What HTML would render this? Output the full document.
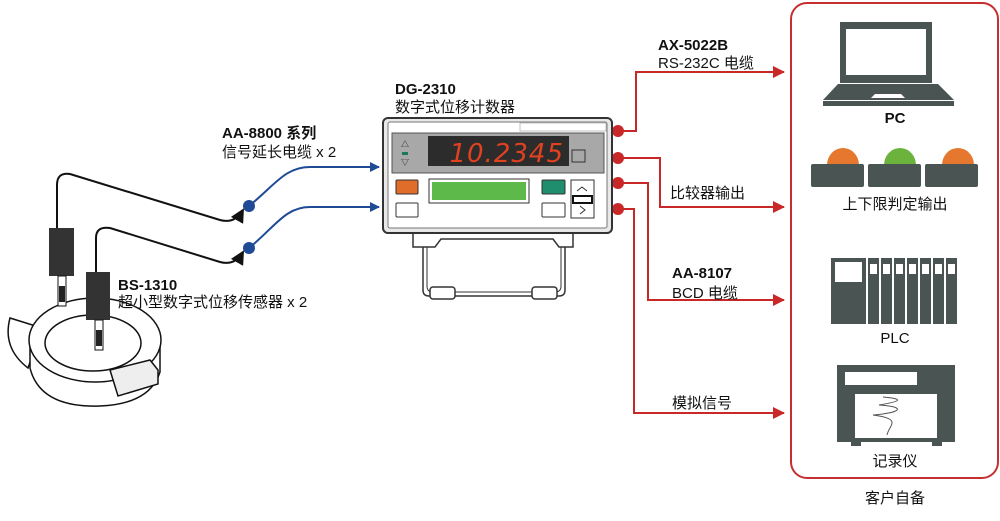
<!DOCTYPE html>
<html><head><meta charset="utf-8"><style>
body{margin:0;background:#fff}
svg{display:block}
text{font-family:"Liberation Sans","Noto Sans CJK SC",sans-serif;fill:#111}
.b{font-weight:bold}
</style></head><body>
<svg width="1000" height="521" viewBox="0 0 1000 521">
<defs>
<marker id="ar" markerWidth="12" markerHeight="12" refX="11" refY="6" orient="auto" markerUnits="userSpaceOnUse"><path d="M0,0L12,6L0,12z" fill="#c82828"/></marker>
<marker id="ab" markerWidth="10" markerHeight="10" refX="9" refY="5" orient="auto" markerUnits="userSpaceOnUse"><path d="M0,0L10,5L0,10z" fill="#1e4a96"/></marker>
<marker id="ak" markerWidth="14" markerHeight="14" refX="12" refY="7" orient="auto" markerUnits="userSpaceOnUse"><path d="M0,0L14,7L0,14z" fill="#111"/></marker>
</defs>
<rect x="791" y="3" width="207" height="475" rx="16" fill="none" stroke="#c62f2f" stroke-width="2"/>
<text x="895" y="503" font-size="15" text-anchor="middle">客户自备</text>
<rect x="840" y="22" width="92" height="61" fill="#4a5553"/>
<rect x="846" y="29" width="80" height="46" fill="#fff"/>
<path d="M838,84H938L954,100H823Z" fill="#4a5553"/>
<rect x="823" y="101" width="131" height="5" fill="#4a5553"/>
<path d="M871,98l4,-4h26l4,4z" fill="#fff"/>
<text x="895" y="123" font-size="15" class="b" text-anchor="middle">PC</text>
<path d="M827,165a16,17 0 0 1 32,0z" fill="#e5782e"/><rect x="811" y="164" width="53" height="23" rx="2" fill="#4a5553"/>
<path d="M884,165a16,17 0 0 1 32,0z" fill="#6cb33e"/><rect x="868" y="164" width="53" height="23" rx="2" fill="#4a5553"/>
<path d="M942,165a16,17 0 0 1 32,0z" fill="#e5782e"/><rect x="925" y="164" width="53" height="23" rx="2" fill="#4a5553"/>
<text x="895" y="209" font-size="15" text-anchor="middle">上下限判定输出</text>
<rect x="831" y="258" width="35" height="66" fill="#4a5553"/><rect x="835" y="262" width="27" height="20" fill="#fff"/>
<g fill="#4a5553">
<rect x="868" y="258" width="11" height="66"/><rect x="881" y="258" width="11" height="66"/><rect x="894" y="258" width="11" height="66"/><rect x="907" y="258" width="11" height="66"/><rect x="920" y="258" width="11" height="66"/><rect x="933" y="258" width="11" height="66"/><rect x="946" y="258" width="11" height="66"/>
</g>
<g fill="#fff"><rect x="870" y="264" width="7" height="10"/><rect x="883" y="264" width="7" height="10"/><rect x="896" y="264" width="7" height="10"/><rect x="909" y="264" width="7" height="10"/><rect x="922" y="264" width="7" height="10"/><rect x="935" y="264" width="7" height="10"/><rect x="948" y="264" width="7" height="10"/></g>
<text x="895" y="343" font-size="15" text-anchor="middle">PLC</text>
<rect x="837" y="365" width="118" height="77" fill="#4a5553"/>
<rect x="851" y="441" width="10" height="5" fill="#4a5553"/><rect x="932" y="441" width="10" height="5" fill="#4a5553"/>
<rect x="845" y="372" width="72" height="13" fill="#fff"/>
<rect x="855" y="394" width="82" height="44" fill="#fff"/>
<path d="M883,397c20,2 20,4 -4,8c30,2 20,8 -6,10c30,4 16,10 14,20" fill="none" stroke="#555" stroke-width="1"/>
<text x="895" y="466" font-size="15" text-anchor="middle">记录仪</text>
<g stroke="#c82828" stroke-width="2" fill="none">
<path d="M618,131H636V72H784" marker-end="url(#ar)"/>
<path d="M618,158H660V207H784" marker-end="url(#ar)"/>
<path d="M618,183H648V300H784" marker-end="url(#ar)"/>
<path d="M618,209H634V413H784" marker-end="url(#ar)"/>
</g>
<g fill="#c82828"><circle cx="618" cy="131" r="6"/><circle cx="618" cy="158" r="6"/><circle cx="618" cy="183" r="6"/><circle cx="618" cy="209" r="6"/></g>
<text x="658" y="50" font-size="15" class="b">AX-5022B</text>
<text x="658" y="68" font-size="15">RS-232C 电缆</text>
<text x="670" y="198" font-size="15">比较器输出</text>
<text x="672" y="278" font-size="15" class="b">AA-8107</text>
<text x="672" y="298" font-size="15">BCD 电缆</text>
<text x="672" y="408" font-size="15">模拟信号</text>
<text x="395" y="94" font-size="15" class="b">DG-2310</text>
<text x="395" y="112" font-size="15">数字式位移计数器</text>
<path d="M413,233h160v14h-14l-6,-8h-112l-6,8h-22z" fill="#fff" stroke="#333" stroke-width="1.5"/>
<path d="M423,247v43q0,6 6,6h130q6,0 6,-6v-43" fill="none" stroke="#333" stroke-width="1.5"/>
<path d="M427,247v39q0,6 6,6h122q6,0 6,-6v-39" fill="none" stroke="#333" stroke-width="1"/>
<rect x="430" y="287" width="25" height="12" rx="3" fill="#fff" stroke="#333" stroke-width="1.5"/>
<rect x="532" y="287" width="25" height="12" rx="3" fill="#fff" stroke="#333" stroke-width="1.5"/>
<rect x="383" y="118" width="229" height="115" rx="5" fill="#e8e8e8" stroke="#333" stroke-width="2"/>
<rect x="388" y="122" width="219" height="106" rx="2" fill="#fff" stroke="#777" stroke-width="1"/>
<rect x="520" y="123" width="86" height="8" fill="#fff" stroke="#999" stroke-width="0.6"/>
<rect x="392" y="133" width="212" height="40" fill="#a8a8a8" stroke="#555"/>
<rect x="428" y="136" width="141" height="30" fill="#2c2c2c"/>
<text x="564" y="162" font-size="26" font-style="italic" text-anchor="end" style="fill:#e0411f;font-family:'DejaVu Sans',sans-serif;font-weight:200;letter-spacing:1px">10.2345</text>
<rect x="572" y="150" width="13" height="12" fill="#a8a8a8" stroke="#333"/>
<text x="405" y="147" font-size="8" text-anchor="middle">△</text>
<rect x="402" y="152" width="6" height="3" fill="#1a7a5a"/>
<text x="405" y="165" font-size="8" text-anchor="middle">▽</text>
<rect x="396" y="180" width="22" height="14" rx="1" fill="#e06d2a" stroke="#333"/>
<rect x="396" y="203" width="22" height="14" rx="1" fill="#fff" stroke="#333"/>
<rect x="429" y="179" width="100" height="24" fill="#fff" stroke="#333"/>
<rect x="432" y="182" width="94" height="18" fill="#5dba4a"/>
<rect x="542" y="180" width="23" height="14" rx="1" fill="#1f8e6e" stroke="#333"/>
<rect x="542" y="203" width="23" height="14" rx="1" fill="#fff" stroke="#333"/>
<rect x="571" y="180" width="23" height="38" fill="#fff" stroke="#333"/>
<rect x="573" y="196" width="19" height="7" fill="#fff" stroke="#111" stroke-width="2"/>
<path d="M577,191l5,-4l5,4" fill="none" stroke="#333"/>
<path d="M580,206l5,4l-5,4" fill="none" stroke="#333"/>
<g stroke="#1e4a96" stroke-width="2" fill="none">
<path d="M249,206C275,185 285,167 310,167H379" marker-end="url(#ab)"/>
<path d="M249,248C275,227 285,207 310,207H379" marker-end="url(#ab)"/>
</g>
<circle cx="249" cy="206" r="6" fill="#1e4a96"/><circle cx="249" cy="248" r="6" fill="#1e4a96"/>
<text x="222" y="138" font-size="15" class="b">AA-8800 系列</text>
<text x="222" y="157" font-size="15">信号延长电缆 x 2</text>
<g stroke="#111" stroke-width="2" fill="none">
<path d="M57,229V185Q57,172 70,174L220,220Q235,224 243,210" marker-end="url(#ak)"/>
<path d="M96,272V238Q96,226 110,228L220,262Q235,266 243,252" marker-end="url(#ak)"/>
</g>
<g stroke="#111" stroke-width="1.5" fill="#fff">
<path d="M10,318q-8,30 18,50l14,-40z"/>
<path d="M30,340v28q10,40 70,38q50,-2 60,-34v-28z"/>
<ellipse cx="95" cy="340" rx="66" ry="42"/>
<ellipse cx="93" cy="343" rx="48" ry="28"/>
<path d="M110,370l40,-10l8,10v14l-40,12z" fill="#eee"/>
</g>
<rect x="49" y="228" width="25" height="48" fill="#333"/>
<rect x="58" y="276" width="8" height="30" fill="#fff" stroke="#111"/>
<rect x="59" y="286" width="6" height="16" fill="#222"/>
<rect x="86" y="272" width="24" height="48" fill="#333"/>
<rect x="95" y="320" width="8" height="30" fill="#fff" stroke="#111"/>
<rect x="96" y="330" width="6" height="16" fill="#222"/>
<text x="118" y="290" font-size="15" class="b">BS-1310</text>
<text x="118" y="307" font-size="15">超小型数字式位移传感器 x 2</text>
</svg>
</body></html>
